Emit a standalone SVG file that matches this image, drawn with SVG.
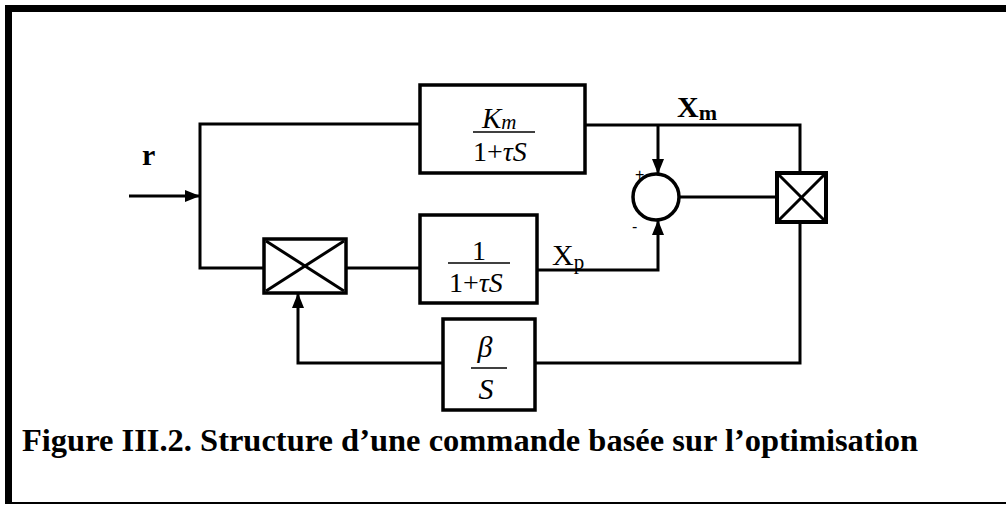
<svg xmlns="http://www.w3.org/2000/svg" width="1006" height="506" viewBox="0 0 1006 506">
<style>
.ln{fill:none;stroke:#000;stroke-width:3}
.bx{fill:#fff;stroke:#000;stroke-width:3.5}
.fl{stroke:#000;stroke-width:1.5}
.t{font-family:"Liberation Serif","Times New Roman",serif;fill:#000}
.i{font-style:italic}
.b{font-weight:bold}
.sg{font-family:"Liberation Sans",Arial,sans-serif;font-size:16px;fill:#000}
</style>
<defs>
<marker id="ah" viewBox="0 0 15 12" refX="15" refY="6" markerWidth="15" markerHeight="12" markerUnits="userSpaceOnUse" orient="auto">
<path d="M0,0 L15,6 L0,12 Z" fill="#000"/>
</marker>
</defs>
<rect width="1006" height="506" fill="#fff"/>
<g id="frame">
<rect x="5" y="5" width="1001" height="7" fill="#000"/>
<rect x="5" y="5" width="7" height="499" fill="#000"/>
<rect x="5" y="502" width="1001" height="2" fill="#000"/>
</g>
<g id="connectors">
<line class="ln" x1="129" y1="196" x2="200" y2="196" marker-end="url(#ah)"/>
<polyline class="ln" points="420,124 200,124 200,268 263,268"/>
<line class="ln" x1="347" y1="268" x2="420" y2="268"/>
<polyline class="ln" points="585,125 800,125 800,173"/>
<line class="ln" x1="658" y1="125" x2="658" y2="174" marker-end="url(#ah)"/>
<polyline class="ln" points="537,270 658,270 658,220" marker-end="url(#ah)"/>
<line class="ln" x1="680" y1="197" x2="777" y2="197"/>
<polyline class="ln" points="800,222 800,363 535,363"/>
<polyline class="ln" points="443,363 298,363 298,293" marker-end="url(#ah)"/>
</g>
<g id="input-label"><text class="t b" x="142" y="165" font-size="30">r</text></g>
<g id="block-km">
<rect class="bx" x="420" y="85" width="165" height="88"/>
<text class="t i" x="482" y="128" font-size="29">K<tspan font-size="21" dy="1">m</tspan></text>
<line class="fl" x1="473" y1="132" x2="535" y2="132"/>
<text class="t" x="473" y="161" font-size="28">1+<tspan class="i">τS</tspan></text>
</g>
<g id="block-1">
<rect class="bx" x="420" y="215" width="117" height="88"/>
<text class="t" x="479" y="260" font-size="28" text-anchor="middle">1</text>
<line class="fl" x1="448" y1="263" x2="510" y2="263"/>
<text class="t" x="449" y="292" font-size="28">1+<tspan class="i">τS</tspan></text>
</g>
<g id="label-xp"><text class="t" x="552" y="265" font-size="30">X<tspan font-size="21" dy="4">p</tspan></text></g>
<g id="label-xm"><text class="t b" x="677" y="117" font-size="30">X<tspan font-size="22" dy="3">m</tspan></text></g>
<g id="sum">
<circle cx="656" cy="197" r="23" fill="#fff" stroke="#000" stroke-width="3.5"/>
<text class="sg" x="635" y="180">+</text>
<text class="sg" x="632" y="232">-</text>
</g>
<g id="mult-right">
<rect x="777" y="173" width="49" height="49" fill="#fff" stroke="#000" stroke-width="4"/>
<line x1="779" y1="175" x2="824" y2="220" stroke="#000" stroke-width="3"/>
<line x1="824" y1="175" x2="779" y2="220" stroke="#000" stroke-width="3"/>
</g>
<g id="mult-left">
<rect x="264" y="239" width="82" height="54" fill="#fff" stroke="#000" stroke-width="3.5"/>
<line x1="266" y1="241" x2="344" y2="291" stroke="#000" stroke-width="3"/>
<line x1="344" y1="241" x2="266" y2="291" stroke="#000" stroke-width="3"/>
</g>
<g id="block-beta">
<rect class="bx" x="443" y="319" width="92" height="91"/>
<text class="t i" x="485" y="357" font-size="30" text-anchor="middle">β</text>
<line class="fl" x1="471" y1="368" x2="507" y2="368"/>
<text class="t i" x="486" y="399" font-size="30" text-anchor="middle">S</text>
</g>
<g id="caption"><text class="t b" x="22" y="451" font-size="32" textLength="896" lengthAdjust="spacingAndGlyphs">Figure III.2. Structure d’une commande basée sur l’optimisation</text></g>
</svg>
